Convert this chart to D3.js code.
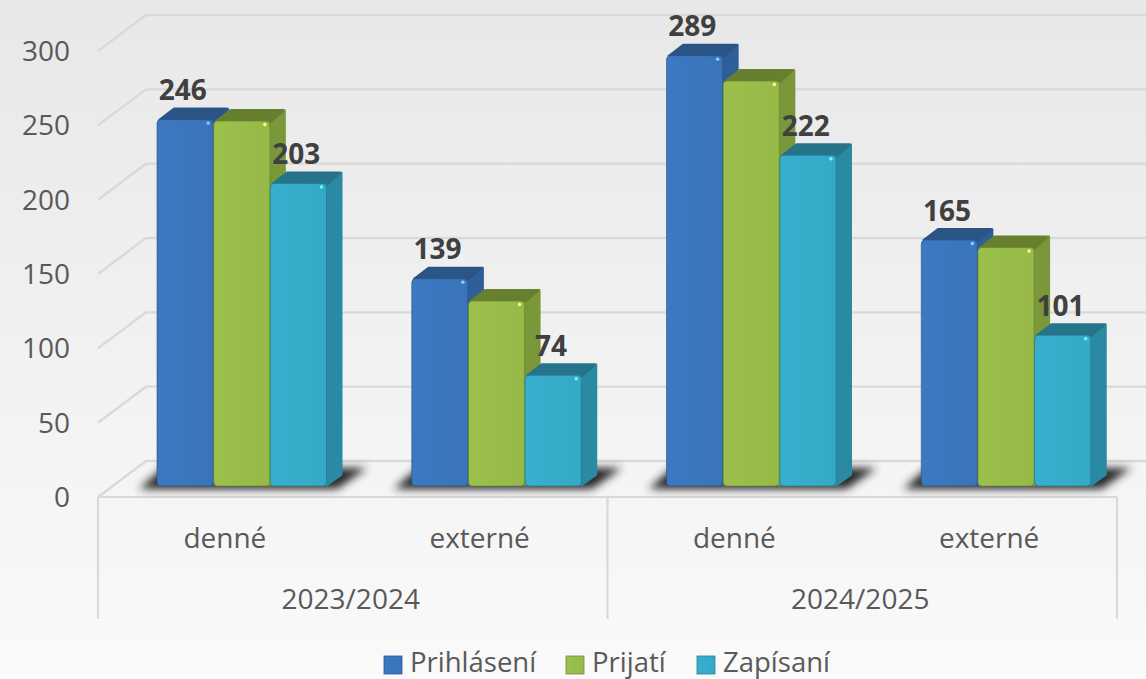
<!DOCTYPE html>
<html>
<head>
<meta charset="utf-8">
<script src="https://cdn.jsdelivr.net/npm/d3@7"></script>
<style>
    html, body { margin: 0; padding: 0; background: #f4f4f4; }
    svg { display: block; font-family: "Open Sans", "Noto Sans", sans-serif; }
</style>
</head>
<body>
<script>
//chart values
var years = ["2023/2024", "2024/2025"];
var forms = ["denné", "externé"];
var seriesNames = ["Prihlásení", "Prijatí", "Zapísaní"];
var prihlaseni = [246, 139, 289, 165];
var prijati = [245, 124, 272, 160];
var zapisani = [203, 74, 222, 101];
var yTicks = [0, 50, 100, 150, 200, 250, 300];
var labelled = [true, false, true]; //the green series has no data labels

//wrap everything in a self-executing anonymous function
(function(){

    var width = 1146, height = 679;

    var seriesValues = [prihlaseni, prijati, zapisani];
    var seriesColors = ["#3b76bd", "#98bc49", "#36abca"];
    var topColors = ["#2b5587", "#66802f", "#267489"];
    var sideColors = ["#2f5f99", "#7a973a", "#2b8aa3"];

    var svg = d3.select("body").append("svg")
        .attr("width", width)
        .attr("height", height);

    var defs = svg.append("defs");

    //page background
    var bg = defs.append("linearGradient").attr("id", "bg")
        .attr("x1", 0).attr("y1", 0).attr("x2", 0).attr("y2", 1);
    bg.append("stop").attr("offset", "0%").attr("stop-color", "#e8e8e8");
    bg.append("stop").attr("offset", "100%").attr("stop-color", "#fafafa");

    svg.append("rect").attr("width", width).attr("height", height).attr("fill", "url(#bg)");

    //front face shading for each series
    seriesColors.forEach(function(c, i){
        var g = defs.append("linearGradient").attr("id", "face" + i)
            .attr("x1", 0).attr("y1", 0).attr("x2", 1).attr("y2", 0);
        g.append("stop").attr("offset", "0%").attr("stop-color", d3.color(c).brighter(0.06));
        g.append("stop").attr("offset", "100%").attr("stop-color", d3.color(c).darker(0.04));
    });

    defs.append("filter").attr("id", "blur")
        .attr("x", "-20%").attr("y", "-100%").attr("width", "140%").attr("height", "300%")
        .append("feGaussianBlur").attr("stdDeviation", 4);

    defs.append("filter").attr("id", "glow")
        .attr("x", "-100%").attr("y", "-100%").attr("width", "300%").attr("height", "300%")
        .append("feGaussianBlur").attr("stdDeviation", 0.7);

    //scales: front plane of the 3d box
    var x0 = d3.scaleBand().domain(d3.range(4)).range([98, 1117]);
    var x1 = d3.scaleBand().domain(d3.range(3))
        .range([59, 229]).paddingInner(0);
    var y = d3.scaleLinear().domain([0, 300]).range([497, 51]);

    //depth of the box and of the bars inside it
    var boxDx = 48, boxDy = -36;
    var barOffDy = -11;
    var barDx = 16, barDy = -12;
    var baseline = y(0) + barOffDy;
    var barLift = 0.7; //bar tops sit a touch above the grid scale

    //back wall grid lines and the slanted part on the side wall
    var grid = svg.append("g")
        .attr("fill", "none")
        .attr("stroke", "#d9d9d9")
        .attr("stroke-width", 2.4);

    yTicks.forEach(function(t){
        grid.append("path").attr("d", d3.line()([
            [98, y(t)],
            [98 + boxDx, y(t) + boxDy],
            [width + 2, y(t) + boxDy]
        ]));
    });

    //category box under the plot
    var axisG = svg.append("g")
        .attr("fill", "none")
        .attr("stroke", "#d9d9d9")
        .attr("stroke-width", 2.2);
    axisG.append("line").attr("x1", x0(0)).attr("x2", x0.range()[1]).attr("y1", y(0)).attr("y2", y(0));
    [x0(0), x0(2), x0.range()[1]].forEach(function(px){
        axisG.append("line").attr("x1", px).attr("x2", px).attr("y1", y(0)).attr("y2", 619);
    });

    //y axis labels
    svg.append("g").selectAll("text")
        .data(yTicks)
        .enter()
        .append("text")
        .attr("x", 70)
        .attr("y", function(d){ return y(d) + 10; })
        .attr("text-anchor", "end")
        .attr("font-size", 28)
        .attr("fill", "#595959")
        .text(function(d){ return d; });

    //floor shadows, one for each cluster
    var shadows = svg.append("g").attr("filter", "url(#blur)");
    d3.range(4).forEach(function(k){
        var left = x0(k) + x1(0), right = x0(k) + x1(2) + x1.bandwidth();
        shadows.append("path")
            .attr("d", d3.line()([
                [left - 18, baseline + 3],
                [left + 6, baseline - 18],
                [right + 40, baseline - 18],
                [right + 10, baseline + 3]
            ]))
            .attr("fill", "#262626");
    });

    //bars, drawn from back to front so that neighbours overlap correctly
    var bars = svg.append("g");
    d3.range(4).forEach(function(k){
        d3.range(3).forEach(function(s){
            var v = seriesValues[s][k];
            var left = x0(k) + x1(s),
                w = x1.bandwidth() - 0.5,
                right = left + w,
                top = y(v) + barOffDy - barLift;
            var g = bars.append("g");

            //side
            g.append("path")
                .attr("d", d3.line()([
                    [right - 1, top + 1],
                    [right + barDx - 1.5, top + barDy + 1.5],
                    [right + barDx - 1.5, baseline + barDy + 0.5],
                    [right - 1, baseline - 0.5]
                ]))
                .attr("fill", sideColors[s])
                .attr("stroke", sideColors[s])
                .attr("stroke-width", 3)
                .attr("stroke-linejoin", "round");
            //top
            g.append("path")
                .attr("d", d3.line()([
                    [left + 2, top + 1],
                    [left + barDx + 1, top + barDy + 1.5],
                    [right + barDx - 3, top + barDy + 1.5],
                    [right, top + 1]
                ]))
                .attr("fill", topColors[s])
                .attr("stroke", topColors[s])
                .attr("stroke-width", 3)
                .attr("stroke-linejoin", "round");
            //front
            g.append("rect")
                .attr("x", left)
                .attr("y", top)
                .attr("width", w)
                .attr("height", baseline - top)
                .attr("rx", 4)
                .attr("fill", "url(#face" + s + ")")
                .attr("stroke", d3.color(seriesColors[s]).darker(1.1))
                .attr("stroke-opacity", 0.6)
                .attr("stroke-width", 1);
            //small highlight in the corner
            g.append("circle")
                .attr("cx", right - 5)
                .attr("cy", top + 3.5)
                .attr("r", 1.7)
                .attr("filter", "url(#glow)")
                .attr("fill", d3.color(seriesColors[s]).brighter(1.8));
        });
    });

    //data labels
    var labels = svg.append("g");
    d3.range(4).forEach(function(k){
        d3.range(3).forEach(function(s){
            if (!labelled[s]) return;
            var v = seriesValues[s][k];
            labels.append("text")
                .attr("x", x0(k) + x1(s) + x1.bandwidth() / 2 - 2.5)
                .attr("y", y(v) + barOffDy - 20)
                .attr("text-anchor", "middle")
                .attr("font-size", 28)
                .attr("font-weight", 700)
                .attr("fill", "#404040")
                .text(v);
        });
    });

    //category labels, two levels
    var catG = svg.append("g").attr("font-size", 28).attr("fill", "#595959").attr("text-anchor", "middle");
    d3.range(4).forEach(function(k){
        catG.append("text")
            .attr("x", x0(k) + x0.bandwidth() / 2 - 0.5)
            .attr("y", 548)
            .text(forms[k % 2]);
    });
    years.forEach(function(yr, i){
        catG.append("text")
            .attr("x", x0(i * 2) + x0.bandwidth() - 2)
            .attr("y", 609)
            .text(yr);
    });

    //legend
    var legendX = [384, 566, 697];
    var legend = svg.append("g");
    seriesNames.forEach(function(name, i){
        legend.append("rect")
            .attr("x", legendX[i])
            .attr("y", 656)
            .attr("width", 18)
            .attr("height", 18)
            .attr("fill", "url(#face" + i + ")")
            .attr("stroke", d3.color(seriesColors[i]).darker(0.8))
            .attr("stroke-width", 0.8);
        legend.append("text")
            .attr("x", legendX[i] + 26)
            .attr("y", 672)
            .attr("font-size", 27.5)
            .attr("fill", "#595959")
            .text(name);
    });
})();
</script>
</body>
</html>
